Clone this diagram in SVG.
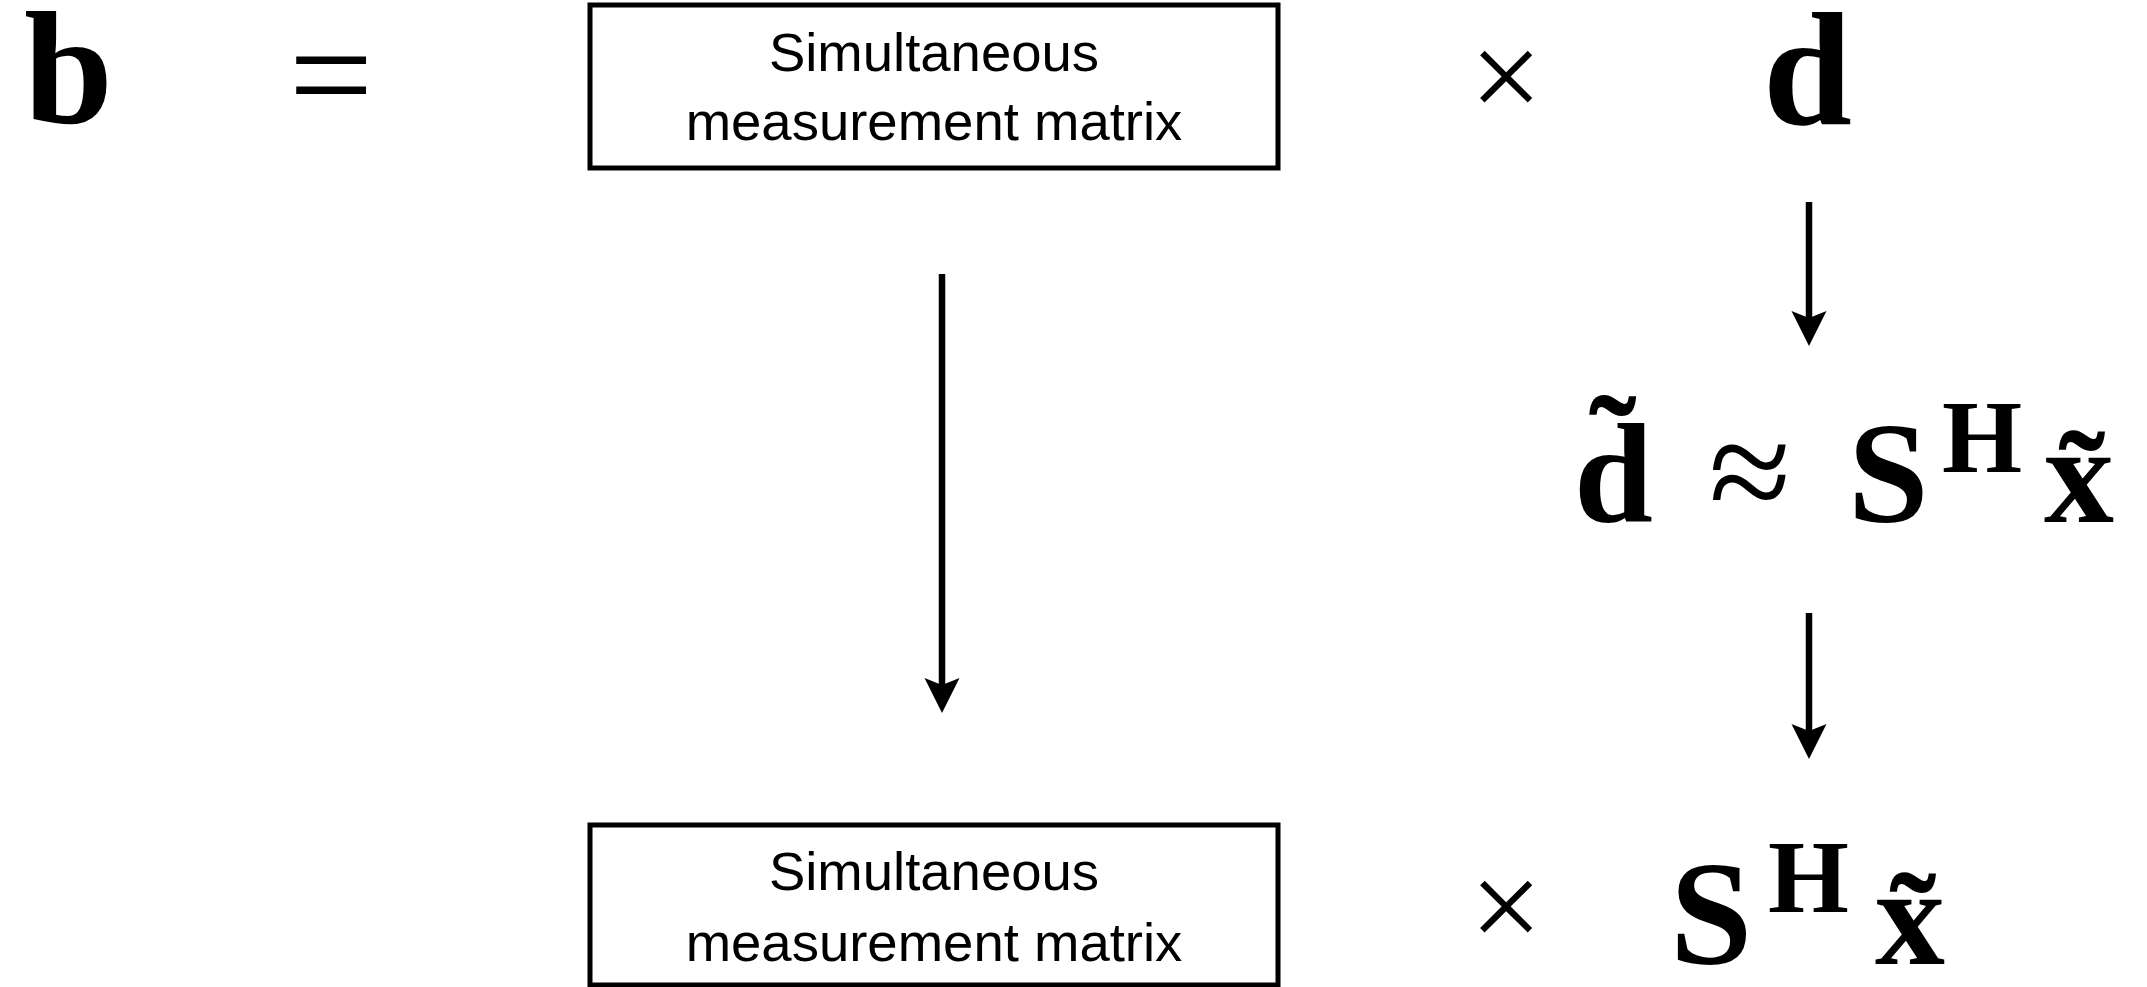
<svg xmlns="http://www.w3.org/2000/svg" width="2147" height="987" viewBox="0 0 2147 987">
<style>
.box{fill:#fff;stroke:#000;stroke-width:5}
.lbl{font-family:"Liberation Sans",Arial,sans-serif;font-size:54.5px;fill:#000;text-anchor:middle}
.mb{font-family:"Liberation Serif","Times New Roman",serif;font-weight:bold;fill:#000}
.op{font-family:"Liberation Serif","Times New Roman",serif;fill:#000}
.conn{stroke:#000;stroke-width:6.5;fill:none}
</style>
<defs>
<marker id="ah" markerUnits="userSpaceOnUse" markerWidth="36" markerHeight="36" viewBox="0 -18 36 36" refX="7" refY="0" orient="auto">
<path d="M0,-17.5 L35,0 L0,17.5 L7,0 Z" fill="#000"/>
</marker>
</defs>
<rect width="2147" height="987" fill="#fff"/>
<g id="eq-top">
<text class="mb" x="24" y="123" font-size="160">b</text>
<text class="op" x="331" y="125" font-size="150" text-anchor="middle">=</text>
</g>
<g id="box-top">
<rect class="box" x="590" y="5" width="688" height="163"/>
<text class="lbl" x="934" y="71">Simultaneous</text>
<text class="lbl" x="934" y="140">measurement matrix</text>
</g>
<g id="times-top">
<text class="op" x="1506" y="119" font-size="128" text-anchor="middle">×</text>
</g>
<g id="d-top">
<text class="mb" x="1763" y="124" font-size="160">d</text>
</g>
<g id="approx-mid">
<text class="mb" y="522"><tspan x="1574" font-size="142">d&#x303;</tspan><tspan class="op" x="1750" font-size="150" font-weight="normal" text-anchor="middle">≈</tspan><tspan x="1848" font-size="145">S</tspan><tspan x="1942" y="472" font-size="103">H</tspan><tspan x="2044" y="522" font-size="140">x&#x303;</tspan></text>
</g>
<g id="box-bottom">
<rect class="box" x="590" y="825" width="688" height="160"/>
<text class="lbl" x="934" y="890">Simultaneous</text>
<text class="lbl" x="934" y="961">measurement matrix</text>
</g>
<g id="times-bottom">
<text class="op" x="1506" y="949" font-size="128" text-anchor="middle">×</text>
</g>
<g id="shx-bottom">
<text class="mb" y="964"><tspan x="1670" font-size="148">S</tspan><tspan x="1768" y="912" font-size="104">H</tspan><tspan x="1875" y="964" font-size="140">x&#x303;</tspan></text>
</g>
<g id="connectors">
<line class="conn" x1="942" y1="274" x2="942" y2="685" marker-end="url(#ah)"/>
<line class="conn" x1="1809" y1="202" x2="1809" y2="318" marker-end="url(#ah)"/>
<line class="conn" x1="1809" y1="613" x2="1809" y2="731" marker-end="url(#ah)"/>
</g>
</svg>
